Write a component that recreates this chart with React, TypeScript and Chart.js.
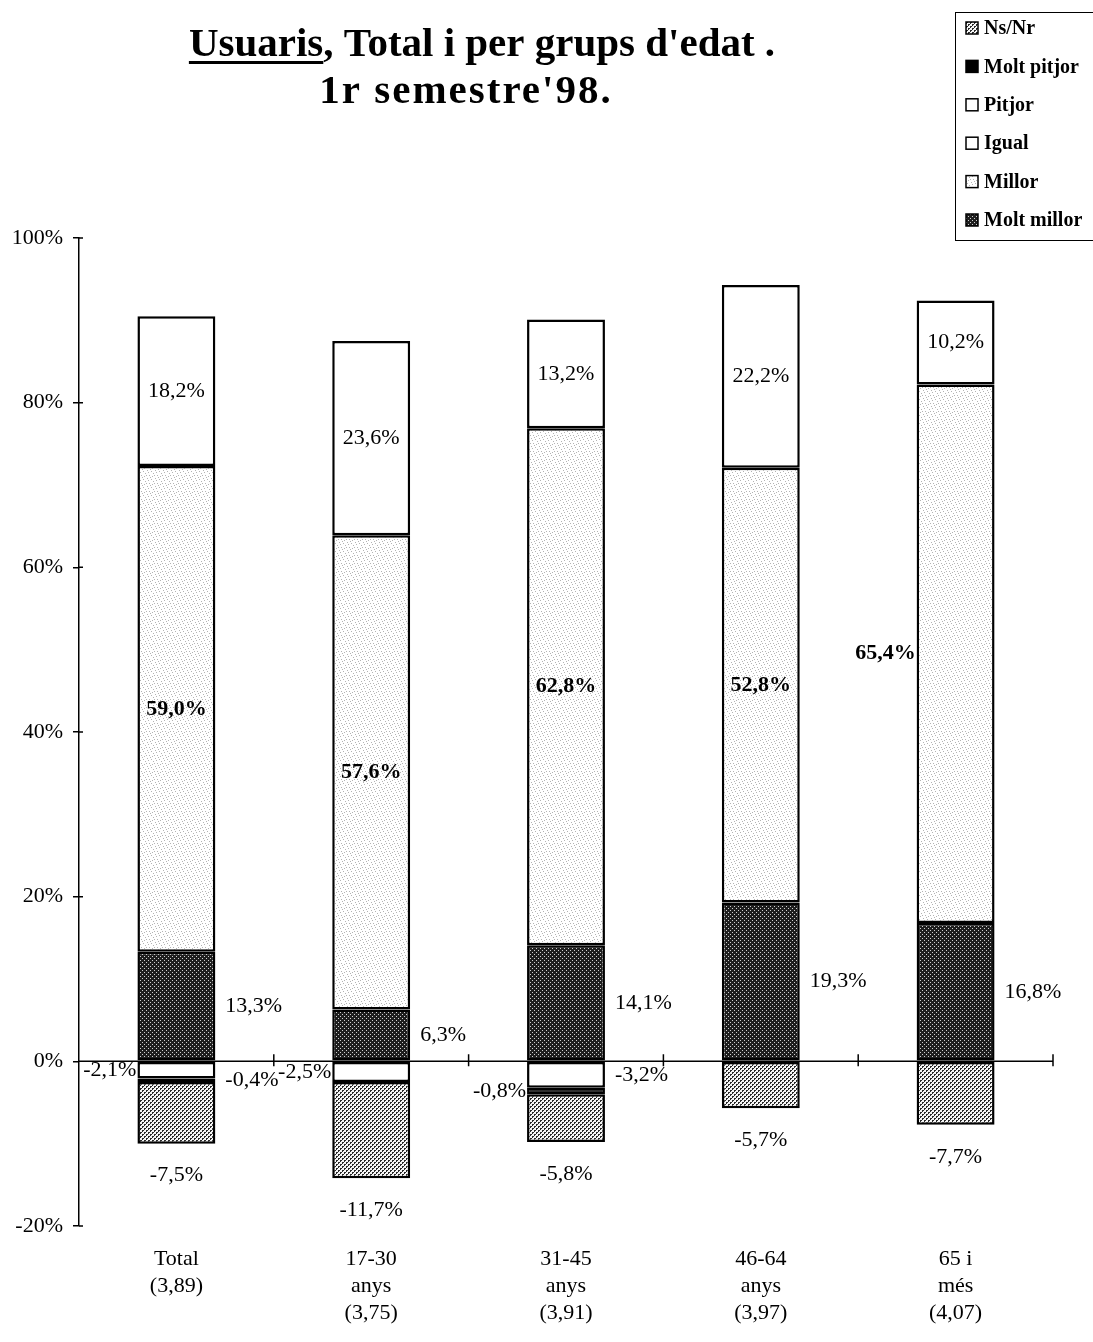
import React, { useEffect, useRef } from "react";
import { Chart, registerables } from "chart.js";

Chart.register(...registerables);

const SERIF = '"Liberation Serif", "Times New Roman", serif';

// Age groups (multi-line axis labels, with the mean score under each)
const categories = [
  ["Total", "(3,89)"],
  ["17-30", "anys", "(3,75)"],
  ["31-45", "anys", "(3,91)"],
  ["46-64", "anys", "(3,97)"],
  ["65 i", "més", "(4,07)"],
];

// Percentages per answer; negative answers stack below zero
const moltMillor = [13.3, 6.3, 14.1, 19.3, 16.8];
const millor = [59.0, 57.6, 62.8, 52.8, 65.4];
const igual = [18.2, 23.6, 13.2, 22.2, 10.2];
const pitjor = [-2.1, -2.5, -3.2, null, null];
const moltPitjor = [-0.4, null, -0.8, null, null];
const nsNr = [-7.5, -11.7, -5.8, -5.7, -7.7];

const yTicks = [-20, 0, 20, 40, 60, 80, 100];

const seriesNames = ["Molt millor", "Millor", "Igual", "Pitjor", "Molt pitjor", "Ns/Nr"];

// Where each value label sits relative to its segment
const labelPlacement = [
  ["right", "right", "right", "right", "right"],
  ["in", "in", "in", "in", "left"],
  ["in", "in", "in", "in", "in"],
  ["left", "left", "right", "in", "in"],
  ["right", "right", "left", "right", "right"],
  ["below", "below", "below", "below", "below"],
];

function makeFill(kind: string): CanvasPattern | string {
  if (kind === "white") return "#ffffff";
  if (kind === "black") return "#000000";
  const c = document.createElement("canvas");
  const g = c.getContext("2d")!;
  if (kind === "dark") {
    c.width = 4;
    c.height = 4;
    g.fillStyle = "#1e1e1e";
    g.fillRect(0, 0, 4, 4);
    g.fillStyle = "#cfcfcf";
    g.fillRect(0, 0, 1, 1);
    g.fillRect(2, 2, 1, 1);
  } else if (kind === "check") {
    c.width = 4;
    c.height = 4;
    g.fillStyle = "#f6f6f6";
    g.fillRect(0, 0, 4, 4);
    g.fillStyle = "#2a2a2a";
    g.fillRect(0, 0, 2, 1);
    g.fillRect(0, 1, 1, 1);
    g.fillRect(2, 2, 2, 1);
    g.fillRect(2, 3, 1, 1);
  } else {
    c.width = 8;
    c.height = 8;
    g.fillStyle = "#ffffff";
    g.fillRect(0, 0, 8, 8);
    g.fillStyle = "#b4b4b4";
    g.fillRect(1, 1, 1, 1);
    g.fillRect(5, 3, 1, 1);
    g.fillRect(3, 6, 1, 1);
    g.fillRect(7, 7, 1, 1);
    g.fillRect(4, 0, 1, 1);
    g.fillRect(0, 4, 1, 1);
    g.fillRect(6, 5, 1, 1);
    g.fillRect(2, 3, 1, 1);
  }
  return g.createPattern(c, "repeat")!;
}

const fmt = (v: number) => v.toFixed(1).replace(".", ",") + "%";

export default function App() {
  const ref = useRef<HTMLCanvasElement | null>(null);

  useEffect(() => {
    const canvas = ref.current;
    if (!canvas) return;

    const fills = [
      makeFill("dark"),
      makeFill("speckle"),
      makeFill("white"),
      makeFill("white"),
      makeFill("black"),
      makeFill("check"),
    ];
    const values = [moltMillor, millor, igual, pitjor, moltPitjor, nsNr];

    const decorations = {
      id: "decorations",
      beforeDatasetsDraw(chart: any) {
        const { ctx, chartArea } = chart;
        const xs = chart.scales.x;
        const ys = chart.scales.y;
        const y0 = ys.getPixelForValue(0);
        ctx.save();
        ctx.strokeStyle = "#000";
        ctx.lineWidth = 1.5;
        ctx.beginPath();
        // zero line with category separators
        ctx.moveTo(chartArea.left, y0);
        ctx.lineTo(chartArea.right, y0);
        for (let i = 0; i < categories.length; i++) {
          const bx = i === categories.length - 1
            ? chartArea.right
            : (xs.getPixelForValue(i) + xs.getPixelForValue(i + 1)) / 2;
          ctx.moveTo(bx, y0 - 7);
          ctx.lineTo(bx, y0 + 5);
        }
        // inner half of the y tick marks
        yTicks.forEach((v) => {
          const py = ys.getPixelForValue(v);
          ctx.moveTo(chartArea.left, py);
          ctx.lineTo(chartArea.left + 4, py);
        });
        ctx.stroke();
        ctx.restore();
      },
      afterDatasetsDraw(chart: any) {
        const { ctx } = chart;
        ctx.save();
        ctx.fillStyle = "#000";
        ctx.textBaseline = "middle";
        values.forEach((arr, di) => {
          const meta = chart.getDatasetMeta(di);
          arr.forEach((v, j) => {
            if (v === null || v === 0) return;
            const el = meta.data[j];
            const p = el.getProps(["x", "y", "base", "width"], true);
            const top = Math.min(p.y, p.base);
            const bot = Math.max(p.y, p.base);
            const cy = (top + bot) / 2;
            const place = labelPlacement[di][j];
            ctx.font = `${di === 1 ? "bold " : ""}22px ${SERIF}`;
            let tx = p.x;
            let ty = cy;
            if (place === "in") {
              ctx.textAlign = "center";
            } else if (place === "right") {
              ctx.textAlign = "left";
              tx = p.x + p.width / 2 + 10;
            } else if (place === "left") {
              ctx.textAlign = "right";
              tx = p.x - p.width / 2 - 1;
            } else {
              ctx.textAlign = "center";
              ty = bot + 32;
            }
            ctx.fillText(fmt(v as number), tx, ty);
          });
        });
        ctx.restore();
      },
      afterDraw(chart: any) {
        const { ctx } = chart;
        ctx.save();
        ctx.fillStyle = "#000";
        ctx.textBaseline = "alphabetic";
        ctx.textAlign = "left";
        // Title
        ctx.font = `bold 41px ${SERIF}`;
        const a = "Usuaris";
        const b = ", Total i per grups d'edat .";
        const wa = ctx.measureText(a).width;
        const wb = ctx.measureText(b).width;
        const x0 = 482 - (wa + wb) / 2;
        ctx.fillText(a, x0, 56);
        ctx.fillText(b, x0 + wa, 56);
        ctx.fillRect(x0, 61, wa, 3);
        ctx.textAlign = "center";
        (ctx as any).letterSpacing = "2px";
        ctx.fillText("1r semestre'98.", 466, 103);
        (ctx as any).letterSpacing = "0px";

        // Legend (top entry is the last series)
        const lx = 955;
        const ly = 12;
        ctx.strokeStyle = "#000";
        ctx.lineWidth = 1;
        ctx.strokeRect(lx + 0.5, ly + 0.5, 1093 - lx + 5, 228);
        ctx.font = `bold 20px ${SERIF}`;
        ctx.textAlign = "left";
        ctx.textBaseline = "middle";
        for (let k = 0; k < seriesNames.length; k++) {
          const di = seriesNames.length - 1 - k;
          const cy = ly + 16 + k * 38.4;
          ctx.fillStyle = fills[di] as any;
          ctx.fillRect(966, cy - 6, 12, 12);
          ctx.lineWidth = 1.5;
          ctx.strokeRect(966, cy - 6, 12, 12);
          ctx.fillStyle = "#000";
          ctx.fillText(seriesNames[di], 984, cy + 1);
        }
        ctx.restore();
      },
    };

    const chart = new Chart(canvas, {
      type: "bar",
      data: {
        labels: categories as any,
        datasets: values.map((arr, i) => ({
          label: seriesNames[i],
          data: arr as any,
          backgroundColor: fills[i] as any,
          borderColor: "#000",
          borderWidth: 2.5,
          borderSkipped: false,
          barPercentage: 0.4,
          categoryPercentage: 1,
          stack: "s",
        })),
      },
      options: {
        responsive: false,
        animation: false,
        layout: { padding: { top: 238, right: 40, left: 0, bottom: 0 } },
        plugins: {
          legend: { display: false },
          tooltip: { enabled: false },
        },
        scales: {
          x: {
            stacked: true,
            grid: { display: false },
            border: { display: false },
            ticks: {
              color: "#000",
              font: { family: SERIF, size: 22, lineHeight: "27px" },
              padding: 12,
              maxRotation: 0,
              autoSkip: false,
            },
            afterFit: (s: any) => {
              s.height = 116;
            },
          },
          y: {
            stacked: true,
            min: -20,
            max: 100,
            afterBuildTicks: (s: any) => {
              s.ticks = yTicks.map((v) => ({ value: v }));
            },
            ticks: {
              color: "#000",
              font: { family: SERIF, size: 22 },
              padding: 10,
              callback: (v: any) => v + "%",
            },
            grid: { drawOnChartArea: false, color: "#000", tickLength: 6, lineWidth: 1.5 },
            border: { color: "#000", width: 1.5 },
            afterFit: (s: any) => {
              s.width = 79;
            },
          },
        },
      },
      plugins: [decorations],
    });

    return () => chart.destroy();
  }, []);

  return (
    <div style={{ position: "absolute", left: 0, top: 0, width: 1093, height: 1342, background: "#fff" }}>
      <canvas ref={ref} width={1093} height={1342} />
    </div>
  );
}
